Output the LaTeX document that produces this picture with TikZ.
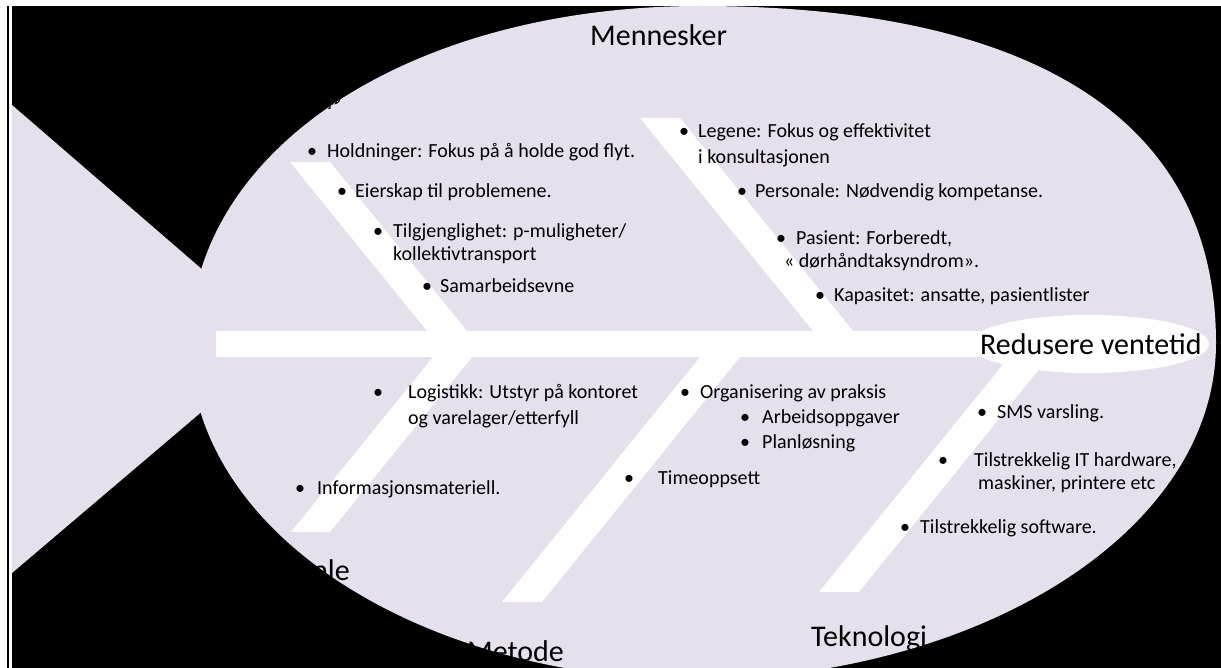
\documentclass[tikz,border=0pt]{standalone}
\usepackage{fontspec}
\setmainfont{Carlito}
\definecolor{fisk}{HTML}{E5E0EC}
\tikzset{
    punkt/.style={anchor=base west, inner sep=0pt, font=\fontsize{20}{24}\selectfont},
    tittel/.style={anchor=base west, inner sep=0pt, font=\fontsize{30}{36}\selectfont},
    bein/.style={fill=white}
}
\begin{document}
\begin{tikzpicture}[x=1pt,y=-1pt]
        \useasboundingbox (0,0) rectangle (1221,668);
        \fill[white] (0,0) rectangle (1221,668);
        \fill[black] (7,6) rectangle (9,668);
        \fill[black] (12,6) rectangle (1221,668);
        \path[save path=\kropp] (700,6) .. controls (984,6) and (1216,90) .. (1216,343)
            .. controls (1216,529) and (985,676) .. (700,680)
            .. controls (425,680) and (190,535) .. (190,343)
            .. controls (190,150) and (410,6) .. (700,6) -- cycle;
        \begin{scope}
        \clip (12,6) rectangle (1221,668);
        \fill[fisk] (12,105) -- (285,341) -- (12,573) -- cycle;
        \fill[fisk, use path=\kropp];
        \fill[bein] (216,331) rectangle (1000,357);
        \fill[bein] (290,162) -- (330,162) -- (467,331) -- (427,331) -- cycle;
        \fill[bein] (640,118) -- (680,118) -- (853,331) -- (813,331) -- cycle;
        \fill[bein] (433,357) -- (472,357) -- (330,532) -- (291,532) -- cycle;
        \fill[bein] (700,357) -- (740,357) -- (542,602) -- (502,602) -- cycle;
        \fill[bein] (1009,357) -- (1049,357) -- (859,592) -- (819,592) -- cycle;
        \fill[white] (1089,344) ellipse [x radius=120pt, y radius=29pt];
        \clip[use path=\kropp];
        \node[tittel] (hode) at (980,355) {Redusere ventetid};
        \node[tittel] (mennesker) at (590,46) {Mennesker};
        \node[tittel] (metode) at (467,661) {Metode};
        \node[tittel] (teknologi) at (811,646) {Teknologi};
        \node[tittel, anchor=base east] (lederskap) at (342,105) {Lederskap};
        \node[tittel, anchor=base east] (lokale) at (350,580) {Lokale};
        % mennesker
        \node[punkt] (a1b) at (307,158) {•};
        \node[punkt] (a1) at (327,158) {Holdninger: Fokus på å holde god flyt.};
        \node[punkt] (a2b) at (337,198) {•};
        \node[punkt] (a2) at (355,198) {Eierskap til problemene.};
        \node[punkt] (a3b) at (373,238) {•};
        \node[punkt] (a3) at (393,238) {Tilgjenglighet: p-muligheter/};
        \node[punkt] (a3x) at (393,261) {kollektivtransport};
        \node[punkt] (a4b) at (422,293) {•};
        \node[punkt] (a4) at (440,293) {Samarbeidsevne};
        \node[punkt] (b1b) at (679,138) {•};
        \node[punkt] (b1) at (698,138) {Legene: Fokus og effektivitet};
        \node[punkt] (b1x) at (698,164) {i konsultasjonen};
        \node[punkt] (b2b) at (737,198) {•};
        \node[punkt] (b2) at (755,198) {Personale: Nødvendig kompetanse.};
        \node[punkt] (b3b) at (776,245) {•};
        \node[punkt] (b3) at (796,245) {Pasient: Forberedt,};
        \node[punkt] (b3x) at (784,268) {« dørhåndtaksyndrom».};
        \node[punkt] (b4b) at (815,302) {•};
        \node[punkt] (b4) at (834,302) {Kapasitet: ansatte, pasientlister};
        % metode
        \node[punkt] (c1b) at (373,398) {•};
        \node[punkt] (c1) at (408,398) {Logistikk: Utstyr på kontoret};
        \node[punkt] (c1x) at (408,424) {og varelager/etterfyll};
        \node[punkt] (c2b) at (295,494) {•};
        \node[punkt] (c2) at (317,494) {Informasjonsmateriell.};
        \node[punkt] (d1b) at (680,398) {•};
        \node[punkt] (d1) at (700,398) {Organisering av praksis};
        \node[punkt] (d2b) at (740,423) {•};
        \node[punkt] (d2) at (762,423) {Arbeidsoppgaver};
        \node[punkt] (d3b) at (740,448) {•};
        \node[punkt] (d3) at (762,448) {Planløsning};
        \node[punkt] (d4b) at (624,484) {•};
        \node[punkt] (d4) at (658,484) {Timeoppsett};
        % teknologi
        \node[punkt] (e1b) at (977,418) {•};
        \node[punkt] (e1) at (997,418) {SMS varsling.};
        \node[punkt] (e2b) at (938,466) {•};
        \node[punkt] (e2) at (974,466) {Tilstrekkelig IT hardware,};
        \node[punkt] (e2x) at (978,489) {maskiner, printere etc};
        \node[punkt] (e3b) at (900,533) {•};
        \node[punkt] (e3) at (920,533) {Tilstrekkelig software.};
        \end{scope}
    \end{tikzpicture}
\end{document}
